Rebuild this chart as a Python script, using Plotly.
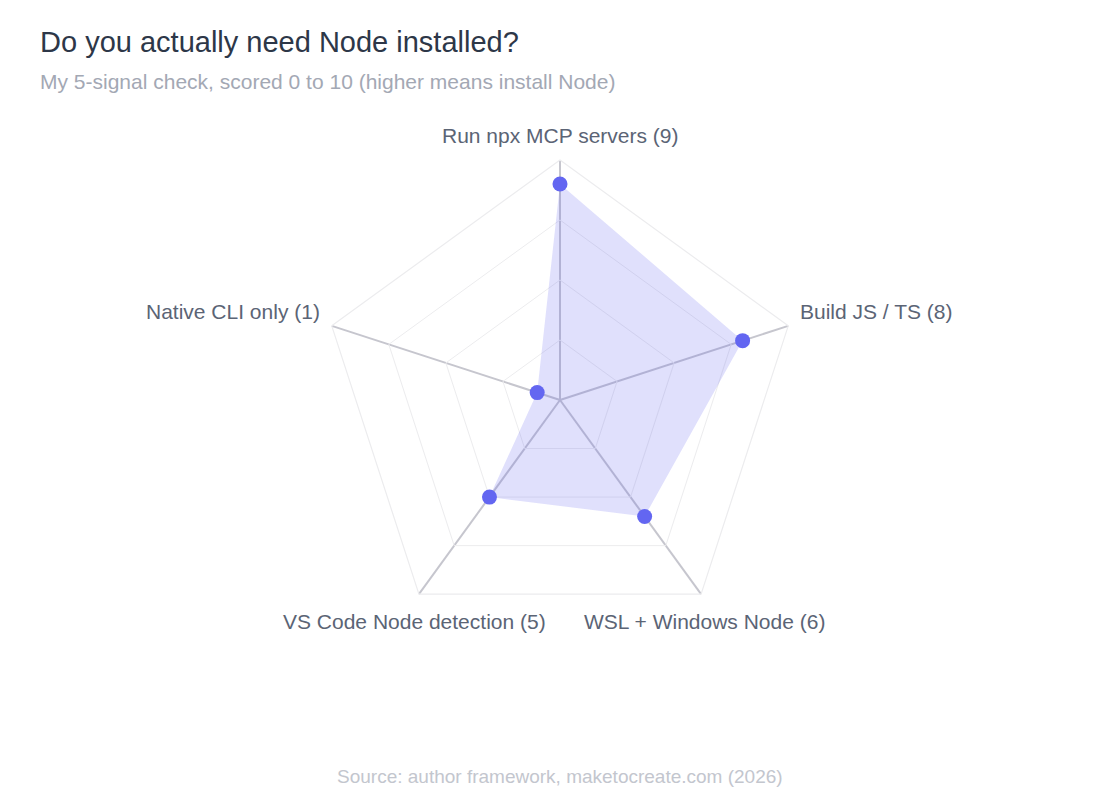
import math
import plotly.graph_objects as go

categories = [
    "Run npx MCP servers (9)",
    "Build JS / TS (8)",
    "WSL + Windows Node (6)",
    "VS Code Node detection (5)",
    "Native CLI only (1)",
]
scores = [9, 8, 6, 5, 1]

FONT = "Arial, Liberation Sans, Helvetica, sans-serif"
W, H = 1120, 800
ML, MR, MT, MB = 80, 80, 160, 160
PW, PH = W - ML - MR, H - MT - MB
RMAX = 10

def px(x):
    return (x - ML) / PW

def py(y):
    return (H - MB - y) / PH

fig = go.Figure()
fig.add_trace(go.Scatterpolar(
    r=scores,
    theta=categories,
    mode="markers",
    fill="toself",
    fillcolor="rgba(99,102,241,0.2)",
    line=dict(width=0, color="rgba(99,102,241,0)"),
    marker=dict(size=15, color="#6366f1"),
    showlegend=False,
    hoverinfo="skip",
))

# Spoke labels: placed just outside each outer vertex of the polar frame
cx, cy = ML + PW / 2, MT + PH / 2
R = min(PW, PH) / 2
label_style = [  # (dx, dy, xanchor)
    (0, -25, "center"),
    (10, -14, "left"),
    (3, 27, "center"),
    (-4, 27, "center"),
    (-10, -14, "right"),
]
annotations = []
n = len(categories)
for i, name in enumerate(categories):
    ang = math.radians(90 - 360 * i / n)
    vx = cx + R * math.cos(ang)
    vy = cy - R * math.sin(ang)
    dx, dy, xa = label_style[i]
    annotations.append(dict(
        text=name, xref="paper", yref="paper",
        x=px(vx + dx), y=py(vy + dy),
        xanchor=xa, yanchor="middle", showarrow=False,
        font=dict(size=21, color="#5b6475", family=FONT),
    ))

annotations += [
    dict(
        text="My 5-signal check, scored 0 to 10 (higher means install Node)",
        xref="paper", yref="paper",
        x=px(38), y=py(82),
        xanchor="left", yanchor="middle",
        showarrow=False,
        font=dict(size=21, color="#a3a8b4", family=FONT),
    ),
    dict(
        text="Source: author framework, maketocreate.com (2026)",
        xref="paper", yref="paper",
        x=0.5, y=py(776),
        xanchor="center", yanchor="middle",
        showarrow=False,
        font=dict(size=19, color="#c3c6ce", family=FONT),
    ),
]

fig.update_layout(
    width=W, height=H,
    margin=dict(l=ML, r=MR, t=MT, b=MB),
    paper_bgcolor="white",
    plot_bgcolor="white",
    font=dict(family=FONT),
    title=dict(
        text="Do you actually need Node installed?",
        xref="container", yref="container",
        x=40 / W, y=1 - 42 / H,
        xanchor="left", yanchor="middle",
        font=dict(size=29, color="#2d3748", family=FONT),
    ),
    polar=dict(
        bgcolor="white",
        gridshape="linear",
        domain=dict(x=[0, 1], y=[0, 1]),
        radialaxis=dict(
            range=[0, RMAX],
            tickvals=[2.5, 5, 7.5, 10],
            showticklabels=False,
            ticks="",
            showline=False,
            gridcolor="#ececee",
            gridwidth=1.2,
        ),
        angularaxis=dict(
            direction="clockwise",
            rotation=90,
            showline=True,
            linecolor="#ececee",
            linewidth=1.2,
            gridcolor="#c6c6ce",
            gridwidth=1.5,
            ticks="",
            showticklabels=False,
        ),
    ),
    annotations=annotations,
)

fig.write_html("out.html")
